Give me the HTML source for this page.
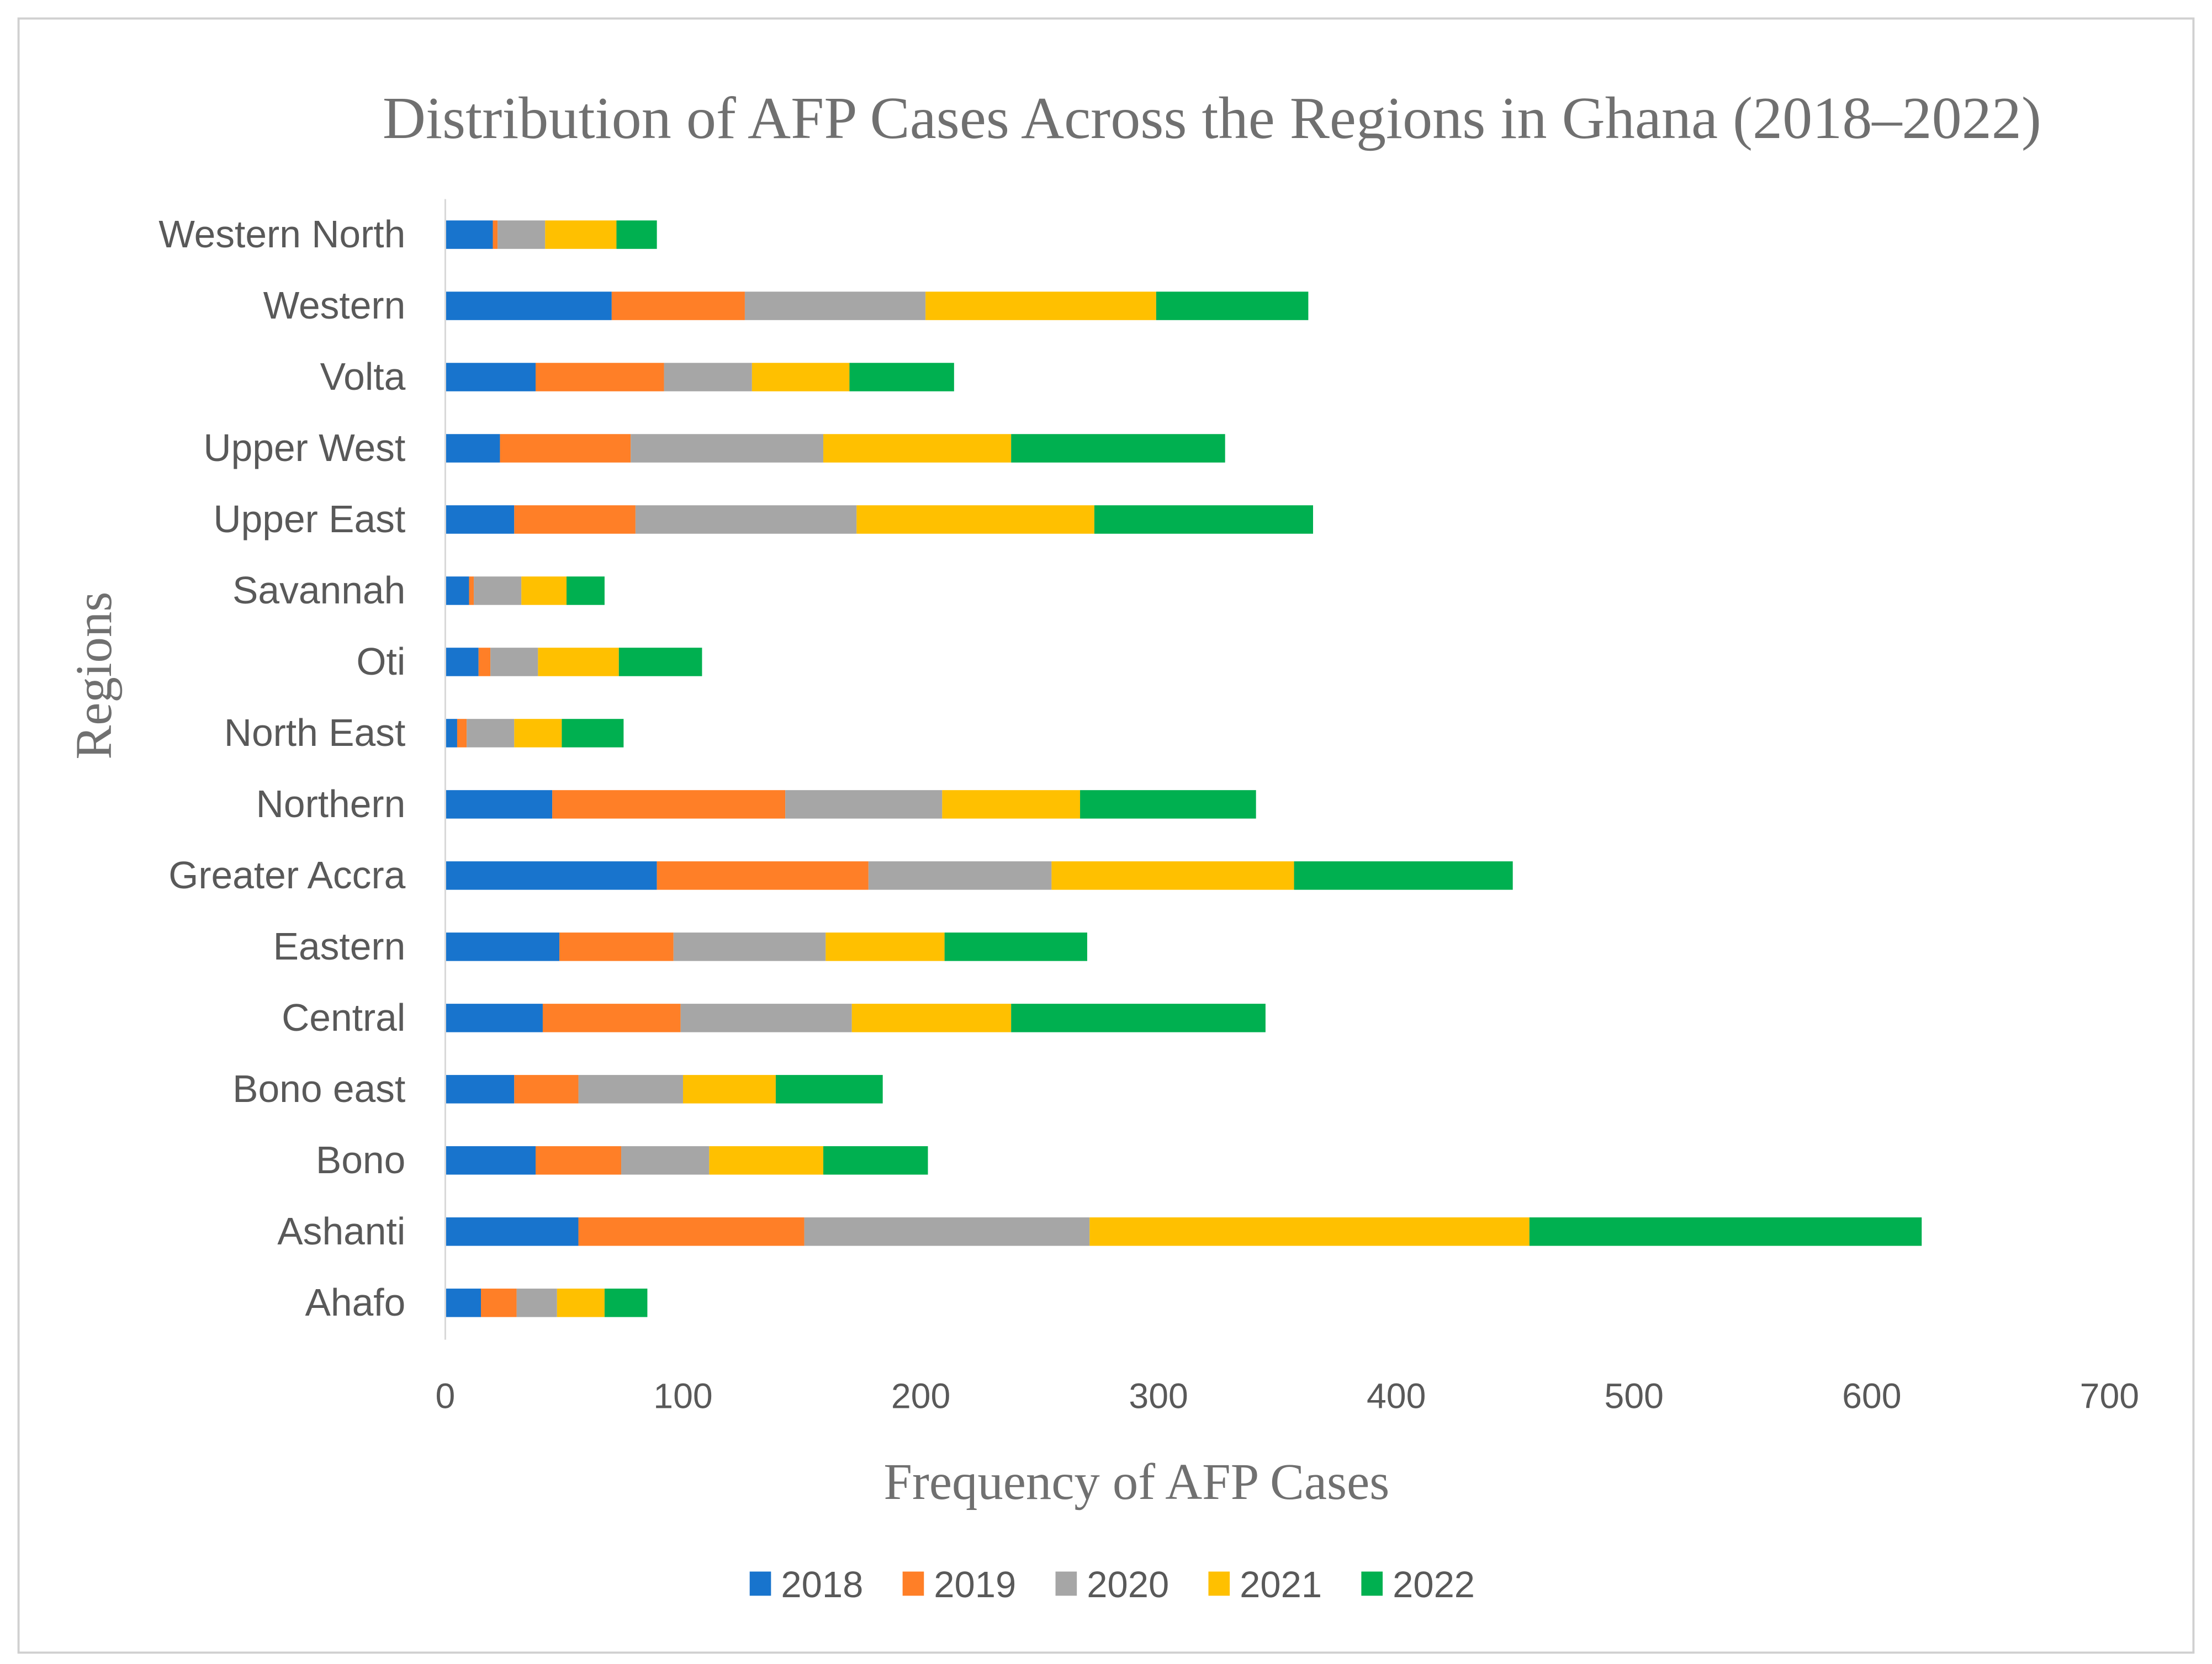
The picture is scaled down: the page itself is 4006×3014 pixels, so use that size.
<!DOCTYPE html>
<html><head><meta charset="utf-8"><style>
html,body{margin:0;padding:0;background:#fff;}
svg{display:block;}
</style></head><body>
<svg id="chart" width="4006" height="3014" viewBox="0 0 1555 1170" xmlns="http://www.w3.org/2000/svg">
<rect x="13" y="13" width="1529" height="1149" fill="#fff" stroke="#d0d0d0" stroke-width="1.5"/>
<text x="852" y="97" text-anchor="middle" font-family="Liberation Serif, serif" font-size="42" fill="#707070">Distribution of AFP Cases Across the Regions in Ghana (2018–2022)</text>
<text transform="translate(78,475) rotate(-90)" text-anchor="middle" font-family="Liberation Serif, serif" font-size="36" fill="#707070">Regions</text>
<text x="799" y="1054" text-anchor="middle" font-family="Liberation Serif, serif" font-size="36" fill="#707070">Frequency of AFP Cases</text>
<g id="bars"></g>
<g id="ticks"></g>
<g id="legend"></g>
</svg>
<script>
const categories = ["Western North","Western","Volta","Upper West","Upper East","Savannah","Oti","North East","Northern","Greater Accra","Eastern","Central","Bono east","Bono","Ashanti","Ahafo"];
const years = ["2018","2019","2020","2021","2022"];
const colors = ["#1874cd","#ff7f27","#a6a6a6","#ffc000","#00b050"];
const v2018 = [20,70,38,23,29,10,14,5,45,89,48,41,29,38,56,15];
const v2019 = [2,56,54,55,51,2,5,4,98,89,48,58,27,36,95,15];
const v2020 = [20,76,37,81,93,20,20,20,66,77,64,72,44,37,120,17];
const v2021 = [30,97,41,79,100,19,34,20,58,102,50,67,39,48,185,20];
const v2022 = [17,64,44,90,92,16,35,26,74,92,60,107,45,44,165,18];
const xTicks = [0,100,200,300,400,500,600,700];
const series = [v2018,v2019,v2020,v2021,v2022];
const NS="http://www.w3.org/2000/svg";
const x0=313, x1=1483, xmax=700;
const xs = v => x0 + v/xmax*(x1-x0);
const rowY = i => 165 + i*50.07;
const barH = 20;
const bars=document.getElementById('bars'), ticks=document.getElementById('ticks'), legend=document.getElementById('legend');
function mk(tag, attrs, parent){const e=document.createElementNS(NS,tag);for(const k in attrs)e.setAttribute(k,attrs[k]);parent.appendChild(e);return e;}
const axis = mk('line',{x1:x0,y1:140,x2:x0,y2:942,stroke:'#d9d9d9','stroke-width':1.2},ticks);


categories.forEach((c,i)=>{
  const t=mk('text',{x:285,y:rowY(i)+9,'text-anchor':'end','font-family':'Liberation Sans, sans-serif','font-size':27,fill:'#595959'},ticks);
  t.textContent=c;
  
  
  let acc=0;
  series.forEach((s,j)=>{
    const r=mk('rect',{x:xs(acc),y:rowY(i)-barH/2,width:xs(acc+s[i])-xs(acc),height:barH,fill:colors[j]},bars);
    
    
    acc+=s[i];
  });
});
xTicks.forEach(v=>{
  const t=mk('text',{x:xs(v),y:990,'text-anchor':'middle','font-family':'Liberation Sans, sans-serif','font-size':25,fill:'#595959'},ticks);
  t.textContent=v;
  
  
});
years.forEach((y,j)=>{
  const lx=527+j*107.5;
  const r=mk('rect',{x:lx,y:1105,width:15,height:17,fill:colors[j]},legend);
  
  
  const t=mk('text',{x:lx+22,y:1123,'font-family':'Liberation Sans, sans-serif','font-size':26,fill:'#595959'},legend);
  t.textContent=y;
  
  
});
</script>
</body></html>
